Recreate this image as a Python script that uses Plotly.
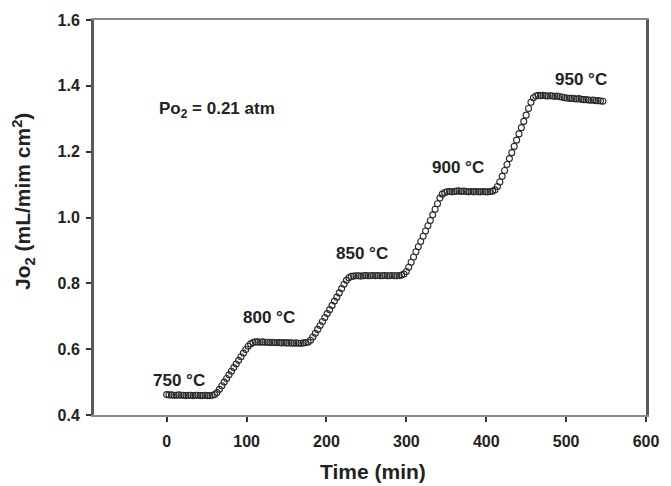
import plotly.graph_objects as go

# Sampling times (min)
time_min = [
    0, 3, 6, 9, 12, 15, 18, 21, 24, 27, 30, 33, 36, 39, 42, 45, 48, 51, 54, 57,
    60, 63, 66, 69, 72, 75, 78, 81, 84, 87, 90, 93, 96, 99, 102, 105, 108,
    111, 114, 117, 120, 123, 126, 129, 132, 135, 138, 141, 144, 147, 150, 153, 156, 159, 162, 165, 168, 171,
    174, 177, 180, 183, 186, 189, 192, 195, 198, 201, 204, 207, 210, 213, 216, 219, 222, 225, 228,
    231, 234, 237, 240, 243, 246, 249, 252, 255, 258, 261, 264, 267, 270, 273, 276, 279, 282, 285, 288, 291,
    294, 297, 300, 303, 306, 309, 312, 315, 318, 321, 324, 327, 330, 333, 336, 339, 342, 345,
    348, 351, 354, 357, 360, 363, 366, 369, 372, 375, 378, 381, 384, 387, 390, 393, 396, 399, 402, 405,
    408, 411, 414, 417, 420, 423, 426, 429, 432, 435, 438, 441, 444, 447, 450, 453, 456, 459,
    462, 465, 468, 471, 474, 477, 480, 483, 486, 489, 492, 495, 498, 501, 504, 507, 510, 513, 516,
    519, 522, 525, 528, 531, 534, 537, 540, 543, 546,
]

# Oxygen permeation flux Jo2 (mL/min cm2)
jo2 = [
    0.462, 0.461, 0.461, 0.460, 0.460, 0.461, 0.460, 0.460, 0.459, 0.460, 0.460, 0.459, 0.460, 0.460, 0.459, 0.459, 0.460, 0.459, 0.459, 0.460,
    0.462, 0.468, 0.478, 0.489, 0.500, 0.511, 0.522, 0.533, 0.544, 0.555, 0.566, 0.577, 0.588, 0.599, 0.609, 0.616, 0.620,
    0.622, 0.622, 0.621, 0.622, 0.621, 0.621, 0.620, 0.621, 0.620, 0.620, 0.620, 0.619, 0.620, 0.619, 0.619, 0.619, 0.618, 0.619, 0.618, 0.618, 0.619, 0.620,
    0.621, 0.627, 0.637, 0.648, 0.660, 0.672, 0.684, 0.696, 0.708, 0.720, 0.733, 0.746, 0.758, 0.771, 0.784, 0.797, 0.809, 0.817, 0.821,
    0.822, 0.823, 0.823, 0.822, 0.823, 0.824, 0.823, 0.823, 0.824, 0.823, 0.824, 0.823, 0.823, 0.824, 0.823, 0.823, 0.824, 0.823, 0.823, 0.824, 0.825,
    0.828, 0.836, 0.849, 0.864, 0.880, 0.896, 0.911, 0.927, 0.943, 0.959, 0.975, 0.991, 1.008, 1.025, 1.042, 1.059, 1.071, 1.076,
    1.078, 1.079, 1.078, 1.079, 1.080, 1.081, 1.079, 1.080, 1.079, 1.078, 1.079, 1.078, 1.079, 1.078, 1.078, 1.079, 1.078, 1.078, 1.079, 1.080,
    1.084, 1.094, 1.108, 1.125, 1.143, 1.161, 1.179, 1.197, 1.216, 1.235, 1.254, 1.273, 1.292, 1.311, 1.331, 1.350, 1.364, 1.369,
    1.371, 1.370, 1.371, 1.370, 1.369, 1.370, 1.369, 1.368, 1.369, 1.367, 1.366, 1.364, 1.363, 1.362, 1.362, 1.361, 1.360, 1.361, 1.359,
    1.358, 1.358, 1.357, 1.356, 1.357, 1.355, 1.355, 1.354, 1.353, 1.352,
]

# Temperature labels and their positions (data units)
temp_labels = ["750 °C", "800 °C", "850 °C", "900 °C", "950 °C"]
temp_label_x = [15, 128, 244, 365, 519]
temp_label_y = [0.505, 0.695, 0.891, 1.151, 1.419]

x_ticks = [0, 100, 200, 300, 400, 500, 600]
y_ticks = [0.4, 0.6, 0.8, 1.0, 1.2, 1.4, 1.6]

FONT = "Liberation Sans, Arial, sans-serif"

fig = go.Figure()
fig.add_trace(go.Scatter(
    x=time_min, y=jo2, mode="markers",
    marker=dict(symbol="circle-open", size=6, color="#2a2a2a", line=dict(width=1.1, color="#2a2a2a")),
    showlegend=False,
))

for txt, tx, ty in zip(temp_labels, temp_label_x, temp_label_y):
    fig.add_annotation(x=tx, y=ty, text="<b>" + txt + "</b>", showarrow=False,
                       font=dict(family=FONT, size=17, color="#222"),
                       xanchor="center", yanchor="middle")

fig.add_annotation(x=-12, y=1.328, text="<b>Po<sub>2</sub> = 0.21 atm</b>", showarrow=False,
                   font=dict(family=FONT, size=17, color="#222"), xanchor="left", yanchor="middle")

# Axis titles
fig.add_annotation(xref="paper", yref="paper", x=-0.128, y=0.54, textangle=-90,
                   text="<b>Jo<sub>2</sub> (mL/mim cm<sup>2</sup>)</b>", showarrow=False,
                   font=dict(family=FONT, size=21, color="#222"), xanchor="center", yanchor="middle")
fig.add_annotation(xref="paper", yref="paper", x=0.505, y=-0.178,
                   text="<b>Time (min)</b>", showarrow=False,
                   font=dict(family=FONT, size=21, color="#222"), xanchor="center", yanchor="bottom")

fig.update_layout(
    width=671, height=486,
    margin=dict(l=94, r=15, t=17, b=71),
    plot_bgcolor="white", paper_bgcolor="white",
    font=dict(family=FONT, color="#222"),
)
fig.update_xaxes(
    range=[-91, 600], tickvals=x_ticks, ticktext=["<b>%d</b>" % v for v in x_ticks],
    showgrid=False, zeroline=False, showline=True, mirror=True,
    linecolor="#8a8a8a", linewidth=1.5, ticks="outside", ticklen=5, tickwidth=1.5, tickcolor="#333",
    tickfont=dict(family=FONT, size=16, color="#222"), ticklabelstandoff=6,
)
fig.update_yaxes(
    range=[0.4, 1.6], tickvals=y_ticks, ticktext=["<b>%.1f</b>" % v for v in y_ticks],
    showgrid=False, zeroline=False, showline=True, mirror=True,
    linecolor="#5a5a5a", linewidth=3, ticks="outside", ticklen=5, tickwidth=1.5, tickcolor="#333",
    tickfont=dict(family=FONT, size=16, color="#222"), ticklabelstandoff=3,
)

fig.write_html("out.html")
